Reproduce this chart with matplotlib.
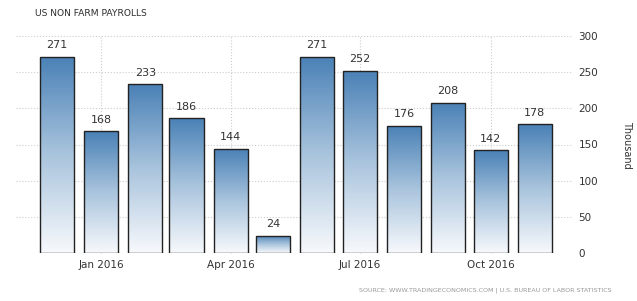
import datetime as dt
import numpy as np
import matplotlib
matplotlib.use("Agg")
import matplotlib.pyplot as plt
import matplotlib.dates as mdates
from matplotlib.colors import LinearSegmentedColormap

# monthly nonfarm payroll changes, Dec 2015 - Nov 2016
months = [dt.date(2015, 12, 1)] + [dt.date(2016, m, 1) for m in range(1, 12)]
payrolls = [271, 168, 233, 186, 144, 24, 271, 252, 176, 208, 142, 178]
tick_months = [dt.date(2016, 1, 1), dt.date(2016, 4, 1), dt.date(2016, 7, 1), dt.date(2016, 10, 1)]
tick_labels = ["Jan 2016", "Apr 2016", "Jul 2016", "Oct 2016"]
y_ticks = [0, 50, 100, 150, 200, 250, 300]

fig = plt.figure(figsize=(6.37, 3.01), dpi=100)
ax = fig.add_axes([16 / 637, 1 - 253 / 301, (573 - 16) / 637, (253 - 36) / 301])

cmap = LinearSegmentedColormap.from_list("tebar", ["#f7f9fc", "#a9c4dd", "#4a81b6"])
grad = np.linspace(1, 0, 256).reshape(-1, 1)

xs = mdates.date2num(months)
width = 24  # days
bars = ax.bar(xs, payrolls, width=width, facecolor="none", edgecolor="#222222", linewidth=1.0, zorder=3)
for b, v in zip(bars, payrolls):
    x0 = b.get_x()
    im = ax.imshow(grad, extent=[x0, x0 + width, 0, v], aspect="auto", cmap=cmap, zorder=2, interpolation="bilinear")
    im.set_clip_path(b)
    ax.text(b.get_x() + width / 2, v + 9, str(v), ha="center", va="bottom", fontsize=8, color="#333333")

ax.set_xlim(mdates.date2num(dt.date(2015, 11, 2)), mdates.date2num(dt.date(2016, 11, 28)))
ax.set_ylim(0, 300)

ax.yaxis.tick_right()
ax.set_yticks(y_ticks)
ax.set_yticklabels([str(t) for t in y_ticks], fontsize=7.5, color="#333333")
ax.set_xticks(mdates.date2num(tick_months))
ax.set_xticklabels(tick_labels, fontsize=7.5, color="#333333")
ax.tick_params(axis="both", length=0, pad=4)
ax.tick_params(axis="x", length=4, color="#cccccc", direction="in", pad=5)

ax.grid(True, color="#cccccc", linestyle=":", linewidth=0.8, zorder=0)
for s in ax.spines.values():
    s.set_visible(False)

fig.text(627 / 637, 1 - 145 / 301, "Thousand", rotation=270, ha="center", va="center", fontsize=7, color="#333333")
fig.text(35 / 637, 1 - 14 / 301, "US NON FARM PAYROLLS", ha="left", va="center", fontsize=6.6, color="#2e2e2e")
fig.text(612 / 637, 1 - 290 / 301, "SOURCE: WWW.TRADINGECONOMICS.COM | U.S. BUREAU OF LABOR STATISTICS",
         ha="right", va="center", fontsize=4.6, color="#999999")

fig.savefig("out.png", dpi=100)
